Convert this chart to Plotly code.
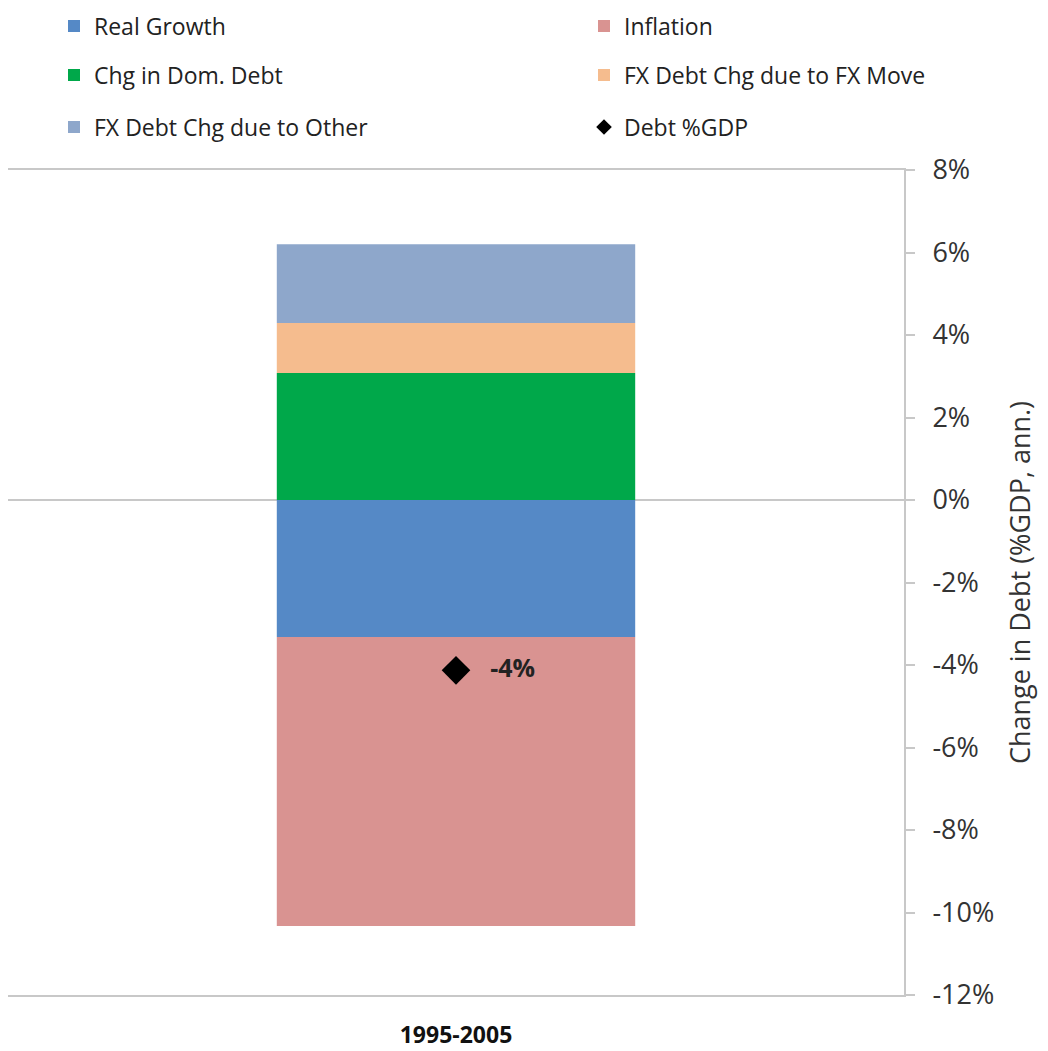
import plotly.graph_objects as go

# data (% of GDP, annualised)
period = ["1995-2005"]
real_growth = [-3.32]
inflation = [-7.01]
chg_dom_debt = [3.08]
fx_move = [1.21]
fx_other = [1.91]
debt_gdp = [-4.13]
debt_label = ["-4%"]

tick_vals = [8, 6, 4, 2, 0, -2, -4, -6, -8, -10, -12]
tick_text = ["8%", "6%", "4%", "2%", "0%", "-2%", "-4%", "-6%", "-8%", "-10%", "-12%"]

FONT = "Open Sans"
GREY = "#c8c8c8"

fig = go.Figure()
fig.add_bar(x=period, y=real_growth, name="Real Growth", marker_color="#5589C6", legend="legend")
fig.add_bar(x=period, y=inflation, name="Inflation", marker_color="#D99391", legend="legend2")
fig.add_bar(x=period, y=chg_dom_debt, name="Chg in Dom. Debt", marker_color="#00A84A", legend="legend3")
fig.add_bar(x=period, y=fx_move, name="FX Debt Chg due to FX Move", marker_color="#F5BC8E", legend="legend4")
fig.add_bar(x=period, y=fx_other, name="FX Debt Chg due to Other", marker_color="#8EA7CB", legend="legend5")
fig.add_scatter(x=period, y=debt_gdp, name="Debt %GDP", mode="markers+text",
                marker=dict(symbol="diamond", size=22, color="black"),
                text=debt_label, textposition="middle right",
                textfont=dict(family=FONT, size=25, color="#222"),
                texttemplate="<b>   %{text}</b>", legend="legend6")

for tr in fig.data:
    tr.showlegend = True
    if tr.type == "bar":
        tr.marker.line.width = 0

# legend laid out as 2 columns x 3 rows, one small legend per entry
def leg(x, y):
    return dict(x=x, y=y, xanchor="left", yanchor="middle", itemwidth=30, itemsizing="constant",
                font=dict(family=FONT, size=23, color="#222"), bgcolor="rgba(0,0,0,0)")

# page body has an 8px margin, so figure coords = window coords - 8
col1, col2 = 46 / 896, 576 / 896
rows = [(995 - 26) / 825, (995 - 75) / 825, (995 - 127) / 825]

fig.update_layout(
    showlegend=True,
    barmode="relative",
    bargap=0.6,
    width=1048, height=1051,
    margin=dict(l=0, r=152, t=162, b=64, autoexpand=False),
    plot_bgcolor="white", paper_bgcolor="white",
    font=dict(family=FONT, size=22, color="#222"),
    legend=leg(col1, rows[0]), legend2=leg(col2, rows[0]),
    legend3=leg(col1, rows[1]), legend4=leg(col2, rows[1]),
    legend5=leg(col1, rows[2]), legend6=leg(col2, rows[2]),
    xaxis=dict(showline=True, linecolor=GREY, linewidth=2, mirror=True,
               showgrid=False, tickfont=dict(family=FONT, size=23, color="#111"),
               ticks="", ticklabelstandoff=18, tickprefix="<b>", ticksuffix="</b>"),
    yaxis=dict(side="right", range=[-12, 8], tickvals=tick_vals, ticktext=tick_text,
               showgrid=False, zeroline=True, zerolinecolor=GREY, zerolinewidth=1.5,
               showline=True, linecolor=GREY, linewidth=2,
               ticks="outside", ticklen=9, tickcolor=GREY, tickwidth=1.5, ticklabelstandoff=12,
               tickfont=dict(family=FONT, size=27, color="#333"),
               title=dict(text="Change in Debt (%GDP, ann.)", font=dict(family=FONT, size=27, color="#333"),
                          standoff=18)),
)

fig.write_html("out.html")
